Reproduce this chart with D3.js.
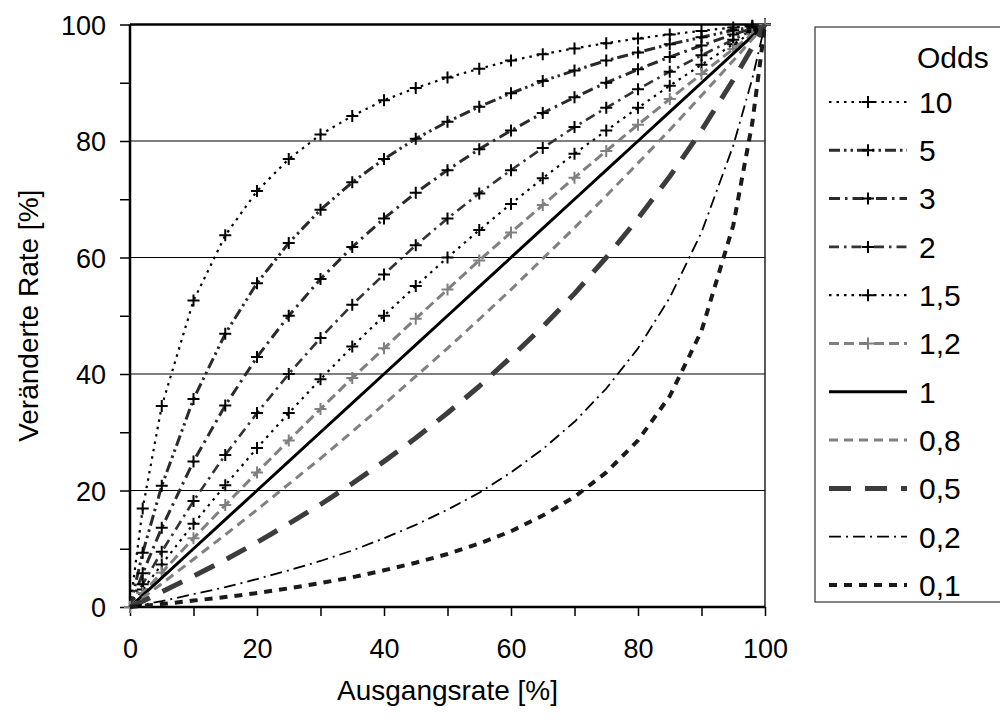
<!DOCTYPE html>
<html><head><meta charset="utf-8">
<script src="https://cdn.jsdelivr.net/npm/d3@7"></script>
<style>body{margin:0;background:#fff}svg{display:block}text{font-family:"Liberation Sans",Arial,sans-serif;fill:#000}</style>
</head><body><svg id="c" width="1000" height="720"></svg>
<script>
// Ausgangsrate (x, %)
const xValues = [0,2,5,10,15,20,25,30,35,40,45,50,55,60,65,70,75,80,85,90,95,98,100];
// Veränderte Rate (y, %) for each odds ratio
const odds10  = [0,16.9,34.5,52.6,63.8,71.4,76.9,81.1,84.3,87.0,89.1,90.9,92.4,93.8,94.9,95.9,96.8,97.6,98.3,98.9,99.5,99.8,100];
const odds5   = [0,9.3,20.8,35.7,46.9,55.6,62.5,68.2,72.9,76.9,80.4,83.3,85.9,88.2,90.3,92.1,93.8,95.2,96.6,97.8,99.0,99.6,100];
const odds3   = [0,5.8,13.6,25.0,34.6,42.9,50.0,56.3,61.8,66.7,71.1,75.0,78.6,81.8,84.8,87.5,90.0,92.3,94.4,96.4,98.3,99.3,100];
const odds2   = [0,3.9,9.5,18.2,26.1,33.3,40.0,46.2,51.9,57.1,62.1,66.7,71.0,75.0,78.8,82.4,85.7,88.9,91.9,94.7,97.4,99.0,100];
const odds1_5 = [0,3.0,7.3,14.3,20.9,27.3,33.3,39.1,44.7,50.0,55.1,60.0,64.7,69.2,73.6,77.8,81.8,85.7,89.5,93.1,96.6,98.7,100];
const odds1_2 = [0,2.4,5.9,11.8,17.5,23.1,28.6,34.0,39.3,44.4,49.5,54.5,59.5,64.3,69.0,73.7,78.3,82.8,87.2,91.5,95.8,98.3,100];
const odds1   = [0,2,5,10,15,20,25,30,35,40,45,50,55,60,65,70,75,80,85,90,95,98,100];
const odds0_8 = [0,1.6,4.0,8.2,12.4,16.7,21.1,25.5,30.1,34.8,39.6,44.4,49.4,54.5,59.8,65.1,70.6,76.2,81.9,87.8,93.8,97.5,100];
const odds0_5 = [0,1.0,2.6,5.3,8.1,11.1,14.3,17.6,21.2,25.0,29.0,33.3,37.9,42.9,48.1,53.8,60.0,66.7,73.9,81.8,90.5,96.1,100];
const odds0_2 = [0,0.4,1.0,2.2,3.4,4.8,6.3,7.9,9.7,11.8,14.1,16.7,19.6,23.1,27.1,31.8,37.5,44.4,53.1,64.3,79.2,90.7,100];
const odds0_1 = [0,0.2,0.5,1.1,1.7,2.4,3.2,4.1,5.1,6.3,7.6,9.1,10.9,13.0,15.7,18.9,23.1,28.6,36.2,47.4,65.5,83.1,100];
const seriesLabels = ["10","5","3","2","1,5","1,2","1","0,8","0,5","0,2","0,1"];
const seriesValues = [odds10,odds5,odds3,odds2,odds1_5,odds1_2,odds1,odds0_8,odds0_5,odds0_2,odds0_1];
const xTicks = [0,20,40,60,80,100];
const yTicks = [0,20,40,60,80,100];

// styles
const styles = {
  "10":  {color:"#000",   width:2.2, dash:"2.5,5",          marker:"#000"},
  "5":   {color:"#2a2a2a",width:3,   dash:"11,4,2.5,4,2.5,4", marker:"#000"},
  "3":   {color:"#2a2a2a",width:3,   dash:"11,5,2.5,5",     marker:"#000"},
  "2":   {color:"#333",   width:2.6, dash:"10,5,2.5,5",     marker:"#000"},
  "1,5": {color:"#000",   width:2.2, dash:"2.5,5",          marker:"#000"},
  "1,2": {color:"#808080",width:3,   dash:"10,5",           marker:"#808080"},
  "1":   {color:"#000",   width:3,   dash:null,             marker:null},
  "0,8": {color:"#808080",width:3,   dash:"9,6",            marker:null},
  "0,5": {color:"#3c3c3c",width:5,   dash:"22,14",          marker:null},
  "0,2": {color:"#000",   width:1.8, dash:"12,5,2,5",       marker:null},
  "0,1": {color:"#1a1a1a",width:4,   dash:"8,7",            marker:null}
};

const svg = d3.select("#c");
const X0=130, X1=765, Y0=607, Y1=24.5;
const x = d3.scaleLinear().domain([0,100]).range([X0,X1]);
const y = d3.scaleLinear().domain([0,100]).range([Y0,Y1]);

// gridlines
svg.append("g").selectAll("line").data(yTicks.filter(d=>d>0)).join("line")
  .attr("x1",X0).attr("x2",X1).attr("y1",d=>y(d)).attr("y2",d=>y(d))
  .attr("stroke","#000").attr("stroke-width",1.2);
svg.append("line").attr("x1",X1).attr("x2",X1).attr("y1",Y1).attr("y2",Y0).attr("stroke","#222").attr("stroke-width",1.5);
svg.append("line").attr("x1",X0).attr("x2",X1).attr("y1",Y1).attr("y2",Y1).attr("stroke","#000").attr("stroke-width",2.5);

// axes
const fs = 27;
const xAxis = svg.append("g").attr("transform",`translate(0,${Y0})`)
  .call(d3.axisBottom(x).tickValues(d3.range(0,101,10)).tickSize(9).tickFormat(d=>xTicks.includes(d)?d:""));
xAxis.select(".domain").attr("stroke-width",2.5).attr("d",`M${X0},0H${X1}`);
xAxis.selectAll(".tick line").attr("stroke-width",1.5);
xAxis.selectAll("text").attr("font-size",fs).attr("dy","1.45em");
const yAxis = svg.append("g").attr("transform",`translate(${X0},0)`)
  .call(d3.axisLeft(y).tickValues(d3.range(0,101,10)).tickSize(10).tickFormat(d=>yTicks.includes(d)?d:""));
yAxis.select(".domain").attr("stroke-width",2.5).attr("d",`M0,${Y0}V${Y1}`);
yAxis.selectAll(".tick line").attr("stroke-width",1.5);
yAxis.selectAll("text").attr("font-size",fs).attr("x",-24).attr("dy","0.36em");
svg.selectAll(".tick text").attr("font-family","Liberation Sans, Arial, sans-serif").attr("fill","#000");

svg.append("text").attr("x",(X0+X1)/2).attr("y",700).attr("text-anchor","middle").attr("font-size",28).text("Ausgangsrate [%]");
svg.append("text").attr("transform",`translate(38,${(Y0+Y1)/2}) rotate(-90)`).attr("text-anchor","middle").attr("font-size",28).text("Veränderte Rate [%]");

// series
const line = d3.line().x(d=>x(d[0])).y(d=>y(d[1]));
const plot = svg.append("g");
const plusPath = s => `M${-s},0H${s}M0,${-s}V${s}`;
seriesLabels.forEach((lab,i)=>{
  const st = styles[lab];
  const pts = xValues.map((xv,j)=>[xv, seriesValues[i][j]]);
  plot.append("path").datum(pts).attr("d",line).attr("fill","none")
    .attr("stroke",st.color).attr("stroke-width",st.width)
    .attr("stroke-dasharray",st.dash).attr("stroke-linejoin","round");
  if(st.marker){
    plot.append("g").selectAll("path").data(pts).join("path")
      .attr("transform",d=>`translate(${x(d[0])},${y(d[1])})`)
      .attr("d",plusPath(6)).attr("stroke",st.marker).attr("stroke-width",2).attr("fill","none");
  }
});

// legend
const lfs = 30;
const lg = svg.append("g");
lg.append("rect").attr("x",815).attr("y",27).attr("width",200).attr("height",575)
  .attr("fill","#fff").attr("stroke","#333").attr("stroke-width",1.2);
lg.append("text").attr("x",917).attr("y",57).attr("dy","0.35em").attr("font-size",lfs).text("Odds");
const ly = d3.scaleLinear().domain([0,10]).range([102,585]);
seriesLabels.forEach((lab,i)=>{
  const st = styles[lab];
  const yy = ly(i);
  lg.append("line").attr("x1",829).attr("x2",907).attr("y1",yy).attr("y2",yy)
    .attr("stroke",st.color).attr("stroke-width",st.width).attr("stroke-dasharray",st.dash);
  if(st.marker){
    lg.append("path").attr("transform",`translate(868,${yy})`).attr("d",plusPath(6))
      .attr("stroke",st.marker).attr("stroke-width",2).attr("fill","none");
  }
  lg.append("text").attr("x",919).attr("y",yy).attr("dy","0.36em").attr("font-size",lfs).text(lab);
});
</script></body></html>
